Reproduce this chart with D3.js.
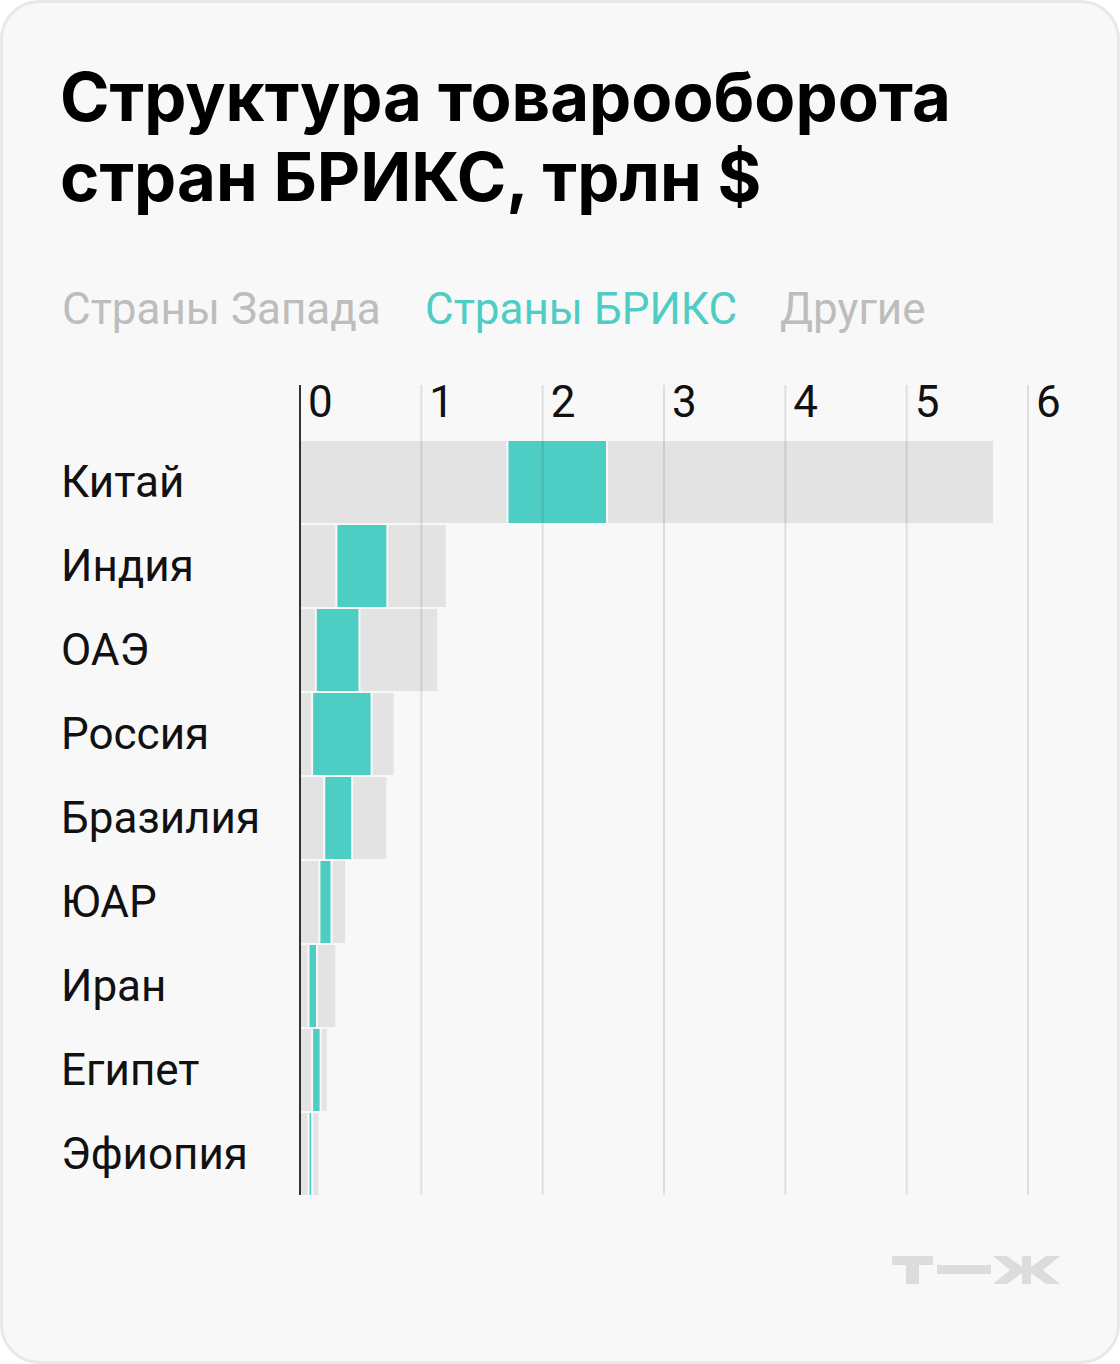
<!DOCTYPE html>
<html>
<head>
<meta charset="utf-8">
<script src="https://cdn.jsdelivr.net/npm/d3@7"></script>
<style>
  html, body { margin: 0; padding: 0; background: #ffffff; }
  svg { display: block; font-family: Roboto, "Noto Sans", sans-serif; }
</style>
</head>
<body>
<svg id="chart" width="1120" height="1364"></svg>
<script>
// данные, трлн $
var countries = ['Китай', 'Индия', 'ОАЭ', 'Россия', 'Бразилия', 'ЮАР', 'Иран', 'Египет', 'Эфиопия'];
var westValues  = [1.71, 0.30, 0.13, 0.10, 0.20, 0.16, 0.07, 0.10, 0.07];
var bricsValues = [0.82, 0.42, 0.36, 0.49, 0.23, 0.10, 0.07, 0.07, 0.03];
var otherValues = [3.19, 0.49, 0.65, 0.19, 0.29, 0.12, 0.16, 0.06, 0.06];
var seriesNames = ['Страны Запада', 'Страны БРИКС', 'Другие'];
var tickValues = [0, 1, 2, 3, 4, 5, 6];
var titleLines = ['Структура товарооборота', 'стран БРИКС, трлн $'];

var colors = { bar: '#e3e3e3', teal: '#4ecdc4', legendGrey: '#bdbdbd' };

var svg = d3.select('#chart');

// карточка
svg.append('rect')
  .attr('x', 1.5).attr('y', 1.5)
  .attr('width', 1117).attr('height', 1361)
  .attr('rx', 38)
  .attr('fill', '#f8f8f8')
  .attr('stroke', '#e8e8e8')
  .attr('stroke-width', 3);

// заголовок
svg.selectAll('.title')
  .data(titleLines)
  .enter().append('text')
  .attr('class', 'title')
  .attr('x', 60)
  .attr('y', function(d, i){ return 121 + i * 80; })
  .attr('font-family', 'Inter, Roboto, sans-serif')
  .attr('font-size', 67)
  .attr('font-weight', 700)
  .attr('fill', '#000')
  .text(function(d){ return d; });

// легенда
var legendX = [62, 425, 780];
var legendColors = [colors.legendGrey, colors.teal, colors.legendGrey];
svg.selectAll('.legend')
  .data(seriesNames)
  .enter().append('text')
  .attr('class', 'legend')
  .attr('x', function(d, i){ return legendX[i]; })
  .attr('y', 324)
  .attr('font-size', 44)
  .attr('fill', function(d, i){ return legendColors[i]; })
  .text(function(d){ return d; });

// шкалы
var x = d3.scaleLinear().domain([0, 6]).range([300, 1028]);
var y = d3.scaleBand().domain(countries).range([440, 440 + 84 * countries.length]);

// стек
var rows = countries.map(function(c, i){
  return { name: c, west: westValues[i], brics: bricsValues[i], other: otherValues[i] };
});
var stack = d3.stack().keys(['west', 'brics', 'other']);
var layers = stack(rows);
var layerColors = [colors.bar, colors.teal, colors.bar];

var g = svg.append('g');
layers.forEach(function(layer, li){
  g.selectAll('.seg-' + li)
    .data(layer)
    .enter().append('rect')
    .attr('class', 'seg-' + li)
    .attr('x', function(d){ return x(d[0]) + 1; })
    .attr('y', function(d){ return y(d.data.name) + 1; })
    .attr('width', function(d){ return Math.max(1, x(d[1]) - x(d[0]) - 2); })
    .attr('height', y.bandwidth() - 2)
    .attr('fill', layerColors[li]);
});

// сетка поверх баров
var axisTop = 385, axisBottom = y.range()[1] - 1;
svg.selectAll('.grid')
  .data(tickValues.slice(1))
  .enter().append('line')
  .attr('class', 'grid')
  .attr('x1', function(d){ return x(d); })
  .attr('x2', function(d){ return x(d); })
  .attr('y1', axisTop).attr('y2', axisBottom)
  .attr('stroke', 'rgba(0,0,0,0.1)')
  .attr('stroke-width', 2);

svg.append('line')
  .attr('x1', x(0)).attr('x2', x(0))
  .attr('y1', axisTop).attr('y2', axisBottom)
  .attr('stroke', '#333')
  .attr('stroke-width', 2);

svg.selectAll('.tick-label')
  .data(tickValues)
  .enter().append('text')
  .attr('class', 'tick-label')
  .attr('x', function(d){ return x(d) + 8; })
  .attr('y', 417)
  .attr('font-size', 44)
  .attr('fill', '#111')
  .text(function(d){ return d; });

// подписи стран
svg.selectAll('.country')
  .data(countries)
  .enter().append('text')
  .attr('class', 'country')
  .attr('x', 61)
  .attr('y', function(d){ return y(d) + y.bandwidth() / 2 + 15; })
  .attr('font-size', 44)
  .attr('fill', '#111')
  .text(function(d){ return d; });

// логотип Т—Ж
var logo = svg.append('g').attr('fill', '#dcdcdc');
logo.append('rect').attr('x', 892).attr('y', 1256).attr('width', 41).attr('height', 9);
logo.append('rect').attr('x', 906).attr('y', 1256).attr('width', 13).attr('height', 28);
logo.append('rect').attr('x', 937).attr('y', 1265).attr('width', 54).attr('height', 9);
logo.append('rect').attr('x', 1022).attr('y', 1256).attr('width', 9).attr('height', 28);
logo.append('polygon').attr('points', '993,1256 1007,1256 1022,1267 1022,1273 1007,1284 993,1284 1010,1270');
logo.append('polygon').attr('points', '1060,1256 1046,1256 1031,1267 1031,1273 1046,1284 1060,1284 1043,1270');
</script>
</body>
</html>
